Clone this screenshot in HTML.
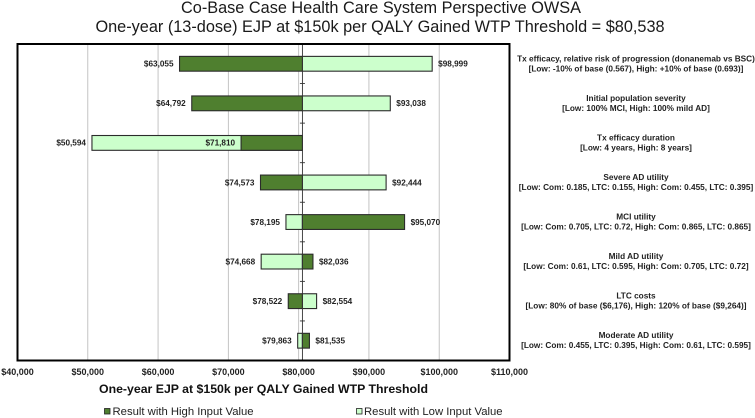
<!DOCTYPE html>
<html>
<head>
<meta charset="utf-8">
<title>OWSA tornado chart</title>
<style>
html,body{margin:0;padding:0;background:#fff;width:755px;height:418px;overflow:hidden}
svg{display:block;font-family:"Liberation Sans",sans-serif}
</style>
</head>
<body>
<svg id="chart" width="755" height="418" viewBox="0 0 755 418" xmlns="http://www.w3.org/2000/svg">
  <text x="381" y="13" font-size="16.3" text-anchor="middle" fill="#1a1a1a">Co-Base Case Health Care System Perspective OWSA</text>
  <text x="380" y="32" font-size="16.3" text-anchor="middle" fill="#1a1a1a">One-year (13-dose) EJP at $150k per QALY Gained WTP Threshold = $80,538</text>
  <g id="grid"></g>
  <g id="bars"></g>
  <g id="labels"></g>
  <rect x="17.5" y="44" width="492" height="316.5" fill="none" stroke="#000" stroke-width="2"/>
  <g id="ticks"></g>
  <g id="params"></g>
  <text x="263.5" y="393" font-size="12.3" font-weight="bold" text-anchor="middle" fill="#111">One-year EJP at $150k per QALY Gained WTP Threshold</text>
  <rect x="104.5" y="408.5" width="5.5" height="5.5" fill="#4f7f2f" stroke="#222" stroke-width="0.8"/>
  <text x="112.5" y="415" font-size="11.3" fill="#222">Result with High Input Value</text>
  <rect x="356.5" y="408.5" width="5.5" height="5.5" fill="#ccffcc" stroke="#222" stroke-width="0.8"/>
  <text x="364" y="415" font-size="11.3" fill="#222">Result with Low Input Value</text>
</svg>
<script>
const baseValue = 80538;
const axisTicks = [40000, 50000, 60000, 70000, 80000, 90000, 100000, 110000];
const highValues = [63055, 64792, 71810, 74573, 95070, 82036, 78522, 81535];
const lowValues = [98999, 93038, 50594, 92444, 78195, 74668, 82554, 79863];
const paramNames = [
  "Tx efficacy, relative risk of progression (donanemab vs BSC)",
  "Initial population severity",
  "Tx efficacy duration",
  "Severe AD utility",
  "MCI utility",
  "Mild AD utility",
  "LTC costs",
  "Moderate AD utility"
];
const paramRanges = [
  "[Low: -10% of base (0.567), High: +10% of base (0.693)]",
  "[Low: 100% MCI, High: 100% mild AD]",
  "[Low: 4 years, High: 8 years]",
  "[Low: Com: 0.185, LTC: 0.155, High: Com: 0.455, LTC: 0.395]",
  "[Low: Com: 0.705, LTC: 0.72, High: Com: 0.865, LTC: 0.865]",
  "[Low: Com: 0.61, LTC: 0.595, High: Com: 0.705, LTC: 0.72]",
  "[Low: 80% of base ($6,176), High: 120% of base ($9,264)]",
  "[Low: Com: 0.455, LTC: 0.395, High: Com: 0.61, LTC: 0.595]"
];

const NS = "http://www.w3.org/2000/svg";
const plotL = 17.5, plotR = 509.5, plotT = 44, plotB = 360.5;
const domainMin = axisTicks[0], domainMax = axisTicks[axisTicks.length - 1];
function xScale(v) { return plotL + (v - domainMin) / (domainMax - domainMin) * (plotR - plotL); }
const rowH = (plotB - plotT) / paramNames.length;
function yScale(i) { return plotT + rowH * (i + 0.5); }
function money(v) { return "$" + Math.round(v).toString().replace(/\B(?=(\d{3})+$)/g, ","); }
function make(tag, parent, attrs, text) {
  const el = document.createElementNS(NS, tag);
  for (const k in attrs) el.setAttribute(k, attrs[k]);
  if (text !== undefined) el.textContent = text;
  parent.appendChild(el);
  return el;
}
const grid = document.getElementById("grid");
const bars = document.getElementById("bars");
const labels = document.getElementById("labels");
const ticks = document.getElementById("ticks");
const params = document.getElementById("params");

axisTicks.forEach(function (t) {
  const x = xScale(t);
  if (t !== domainMin && t !== domainMax) {
    const g = make("line", grid, {x1: x, x2: x, y1: plotT, y2: plotB, stroke: "#bdbdbd", "stroke-width": 0.9});
    
    
  }
  const lab = make("text", ticks, {x: x, y: 375, "font-size": 9, "font-weight": "bold", "text-anchor": "middle", fill: "#222"}, money(t));
  
  
});

function drawBar(value, fill, kind, parent) {
  return function (i) {
    const x0 = xScale(Math.min(value, baseValue));
    const x1 = xScale(Math.max(value, baseValue));
    const r = make("rect", parent, {x: x0, y: yScale(i) - 7.4, width: x1 - x0, height: 14.8, fill: fill, stroke: "#2b2b2b", "stroke-width": 1.1});
    
    
  };
}
function drawLabel(value, i) {
  const below = value < baseValue;
  const x = xScale(value) + (below ? -6 : 6);
  const t = make("text", labels, {x: x, y: yScale(i) + 2.8, "font-size": 8.2, "font-weight": "bold", "text-anchor": below ? "end" : "start", fill: "#222"}, money(value));
  
  
}
paramNames.forEach(function (name, i) {
  drawBar(lowValues[i], "#ccffcc", "bar-low-input", bars)(i);
  drawBar(highValues[i], "#4f7f2f", "bar-high-input", bars)(i);
  drawLabel(highValues[i], i);
  drawLabel(lowValues[i], i);

  const n = make("text", params, {x: 636, y: yScale(i) - 2.5, "font-size": 8.25, "font-weight": "bold", "text-anchor": "middle", fill: "#222"}, name);
  
  
  const rg = make("text", params, {x: 636, y: yScale(i) + 7.5, "font-size": 8.25, "font-weight": "bold", "text-anchor": "middle", fill: "#222"}, paramRanges[i]);
  
  
});

const bx = xScale(baseValue);
const baseLine = make("line", labels, {x1: bx, x2: bx, y1: plotT, y2: plotB, stroke: "#333", "stroke-width": 0.9});


for (let i = 1; i < paramNames.length; i++) {
  const y = plotT + rowH * i;
  const tk = make("line", labels, {x1: bx - 2.5, x2: bx + 2.5, y1: y, y2: y, stroke: "#333", "stroke-width": 0.9});
  
  
}
</script>
</body>
</html>
